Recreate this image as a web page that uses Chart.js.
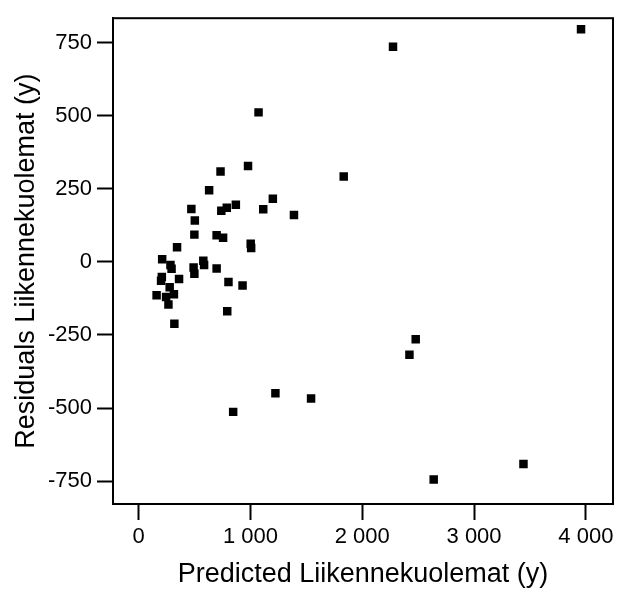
<!DOCTYPE html>
<html>
<head>
<meta charset="utf-8">
<script src="https://cdn.jsdelivr.net/npm/chart.js@4"></script>
<style>
  html, body { margin: 0; padding: 0; background: #fff; }
  #wrap { width: 619px; height: 592px; }
</style>
</head>
<body>
<div id="wrap"><canvas id="myChart" width="619" height="592"></canvas></div>
<script>
// predicted values (x) and residuals (y)
const predicted = [3957, 2275, 1072, 978, 732, 1834, 630, 1200, 869, 788, 739, 471, 1114, 1389, 502, 498,
  697, 755, 1002, 1006, 343, 210, 578, 585, 284, 294, 491, 498, 697, 207, 200, 361, 803, 929, 277, 160,
  245, 315, 266, 792, 319, 2478, 2422, 1223, 1542, 845, 3442, 2639];
const residuals = [795, 735, 511, 328, 309, 292, 245, 216, 195, 185, 175, 181, 180, 160, 141, 93,
  91, 82, 62, 47, 50, 9, 4, -11, -11, -24, -19, -41, -23, -52, -65, -59, -69, -81, -87, -114,
  -120, -111, -146, -169, -212, -265, -318, -449, -467, -513, -691, -744];

const xTicks = [0, 1000, 2000, 3000, 4000];
const xTickLabels = ['0', '1 000', '2 000', '3 000', '4 000'];
const yTicks = [-750, -500, -250, 0, 250, 500, 750];
const yTickLabels = ['-750', '-500', '-250', '0', '250', '500', '750'];

const ctx = document.getElementById('myChart').getContext('2d');

const points = predicted.map((x, i) => ({ x: x, y: residuals[i] }));

// box round the plot area (top and right sides)
const frame = {
  id: 'frame',
  afterDraw(chart) {
    const a = chart.chartArea;
    const c = chart.ctx;
    c.save();
    c.strokeStyle = '#000';
    c.lineWidth = 2;
    c.strokeRect(a.left, a.top, a.right - a.left, a.bottom - a.top);
    c.restore();
  }
};

const tickFont = { family: 'Liberation Sans, Arial', size: 22 };
const titleFont = { family: 'Liberation Sans, Arial', size: 27 };

new Chart(ctx, {
  type: 'scatter',
  data: {
    datasets: [{
      data: points,
      backgroundColor: '#000',
      borderWidth: 0,
      pointStyle: 'rect',
      pointRadius: 6,
      pointHoverRadius: 6
    }]
  },
  options: {
    responsive: false,
    animation: false,
    events: [],
    layout: { padding: { top: 11, right: 2, left: 0, bottom: 0 } },
    plugins: { legend: { display: false }, tooltip: { enabled: false } },
    scales: {
      x: {
        type: 'linear',
        min: -230,
        max: 4243,
        afterFit: s => { s.height = 88; },
        afterBuildTicks: s => { s.ticks = xTicks.map(v => ({ value: v })); },
        ticks: {
          color: '#000',
          font: tickFont,
          padding: 4,
          maxRotation: 0,
          autoSkip: false,
          callback: (v) => xTickLabels[xTicks.indexOf(v)]
        },
        grid: { drawOnChartArea: false, drawTicks: true, tickLength: 16, tickWidth: 2, tickColor: '#000' },
        border: { display: true, color: '#000', width: 2 },
        title: {
          display: true,
          text: 'Predicted Liikennekuolemat (y)',
          color: '#000',
          font: titleFont,
          padding: { top: 0, bottom: 1 }
        }
      },
      y: {
        type: 'linear',
        min: -828,
        max: 833,
        afterFit: s => { s.width = 113; },
        afterBuildTicks: s => { s.ticks = yTicks.map(v => ({ value: v })); },
        ticks: {
          color: '#000',
          font: tickFont,
          padding: 5,
          autoSkip: false,
          callback: (v) => yTickLabels[yTicks.indexOf(v)]
        },
        grid: { drawOnChartArea: false, drawTicks: true, tickLength: 16, tickWidth: 2, tickColor: '#000' },
        border: { display: true, color: '#000', width: 2 },
        title: {
          display: true,
          text: 'Residuals Liikennekuolemat (y)',
          color: '#000',
          font: titleFont,
          padding: { top: 10, bottom: 0 }
        }
      }
    }
  },
  plugins: [frame]
});
</script>
</body>
</html>
